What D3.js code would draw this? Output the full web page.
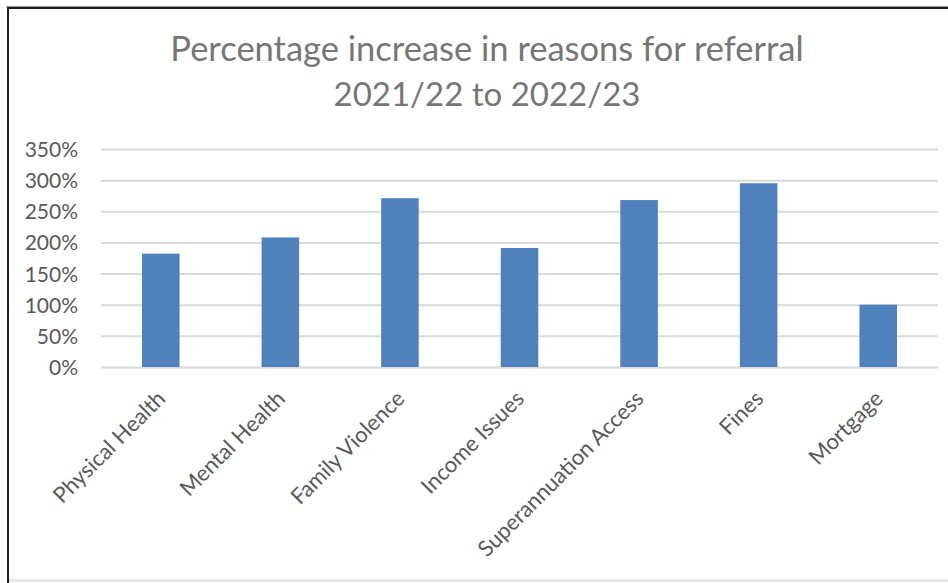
<!DOCTYPE html>
<html>
<head>
<meta charset="utf-8">
<script src="https://cdn.jsdelivr.net/npm/d3@7"></script>
<style>
  body { margin: 0; background: #fff; }
  svg { display: block; }
</style>
</head>
<body>
<div id="chart"></div>
<script>
// data
const categories = ['Physical Health', 'Mental Health', 'Family Violence',
  'Income Issues', 'Superannuation Access', 'Fines', 'Mortgage'];
const increase = [1.82, 2.08, 2.71, 1.91, 2.68, 2.95, 1.00];
const yTicks = [0, 0.5, 1, 1.5, 2, 2.5, 3, 3.5];
const titleLines = ['Percentage increase in reasons for referral', '2021/22 to 2022/23'];

const par = {
  width: 948,
  height: 583,
  font: 'Lato, "Open Sans", sans-serif',
  textColor: '#595959',
  titleColor: '#767676',
  barColor: '#4f81bd',
  gridColor: '#d9d9d9',
  titleSizes: [34.5, 33], // Lato digits run wider than the original's
};

const margin = { top: 149, right: 10, bottom: 216, left: 101 };
const plotW = 938 - margin.left;
const plotH = 367 - margin.top;

const svg = d3.select('#chart').append('svg')
  .attr('width', par.width)
  .attr('height', par.height)
  .style('font-family', par.font);

svg.append('rect')
  .attr('width', par.width)
  .attr('height', par.height)
  .attr('fill', '#fff');

// chart frame (only left / top / bottom are inside the picture)
svg.append('line')
  .attr('x1', 6).attr('x2', par.width).attr('y1', 6.5).attr('y2', 6.5)
  .attr('stroke', '#9a9a9a').attr('stroke-width', 1);
svg.append('path')
  .attr('d', `M8,${par.height}V8H${par.width}`)
  .attr('fill', 'none')
  .attr('stroke', '#1e1e1e')
  .attr('stroke-width', 2);
svg.append('line')
  .attr('x1', 9).attr('x2', par.width).attr('y1', 580.5).attr('y2', 580.5)
  .attr('stroke', '#e6e6e6').attr('stroke-width', 3);

// title
svg.append('text')
  .attr('x', 487)
  .attr('text-anchor', 'middle')
  .attr('fill', par.titleColor)
  .selectAll('tspan')
  .data(titleLines)
  .join('tspan')
  .attr('x', 487)
  .attr('y', (d, i) => 61 + i * 45)
  .style('font-size', (d, i) => `${par.titleSizes[i]}px`)
  .text(d => d);

const g = svg.append('g')
  .attr('transform', `translate(${margin.left},${margin.top})`);

const x = d3.scaleBand()
  .domain(categories)
  .range([0, plotW])
  .paddingInner(0.686)
  .paddingOuter(0.343);

const y = d3.scaleLinear()
  .domain([0, 3.5])
  .range([plotH, 0]);

const yAxis = d3.axisLeft(y)
  .tickValues(yTicks)
  .tickFormat(d3.format('.0%'))
  .tickSize(-plotW)
  .tickPadding(23);

const yAx = g.append('g')
  .attr('class', 'y axis')
  .call(yAxis)
  .attr('font-family', null)
  .attr('font-size', null);

yAx.select('.domain').remove();
yAx.selectAll('.tick line')
  .attr('stroke', par.gridColor)
  .attr('stroke-width', 2);
yAx.selectAll('.tick text')
  .attr('fill', par.textColor)
  .style('font-size', '21px')
  .attr('dy', '0.36em');

// bars
g.selectAll('.bar')
  .data(categories.map((c, i) => ({ name: c, value: increase[i] })))
  .join('rect')
  .attr('class', 'bar')
  .attr('x', d => x(d.name))
  .attr('y', d => y(d.value))
  .attr('width', x.bandwidth())
  .attr('height', d => y(0) - y(d.value))
  .attr('fill', par.barColor);

// category labels, rotated
const xAxis = d3.axisBottom(x).tickSize(0).tickPadding(0);
const xAx = g.append('g')
  .attr('class', 'x axis')
  .attr('transform', `translate(0,${plotH})`)
  .call(xAxis)
  .attr('font-family', null)
  .attr('font-size', null);

xAx.select('.domain').remove();
xAx.selectAll('.tick text')
  .attr('fill', par.textColor)
  .style('font-size', '22px')
  .style('text-anchor', 'end')
  .attr('y', 0)
  .attr('dy', 0)
  .attr('transform', 'translate(6,33) rotate(-45)');
</script>
</body>
</html>
